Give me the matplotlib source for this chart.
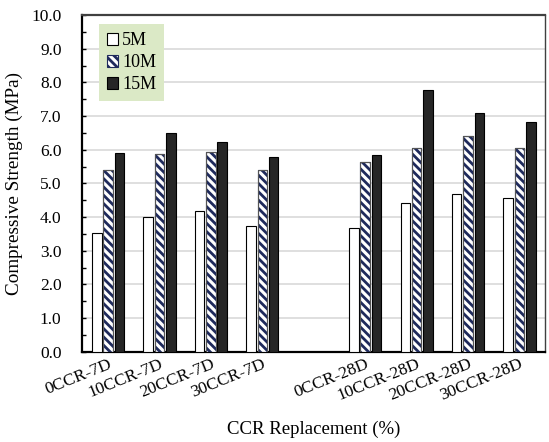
import matplotlib.pyplot as plt
import numpy as np

plt.rcParams['font.family'] = ['Liberation Serif', 'DejaVu Serif']
plt.rcParams['hatch.linewidth'] = 2.0

categories = ['0CCR-7D', '10CCR-7D', '20CCR-7D', '30CCR-7D', '',
              '0CCR-28D', '10CCR-28D', '20CCR-28D', '30CCR-28D']
s5 = [3.52, 4.00, 4.19, 3.74, np.nan, 3.69, 4.41, 4.69, 4.58]
s10 = [5.40, 5.88, 5.93, 5.40, np.nan, 5.63, 6.05, 6.41, 6.06]
s15 = [5.90, 6.50, 6.23, 5.79, np.nan, 5.85, 7.77, 7.08, 6.82]

fig = plt.figure(figsize=(5.49, 4.42), dpi=100)
ax = fig.add_axes([0.15, 0.204, 0.843, 0.762])

x = np.arange(len(categories))
w = 0.185
step = 0.22
ax.bar(x - step, s5, w, color='white', edgecolor='black', linewidth=0.8, label='5M', zorder=3)
ax.bar(x, s10, w, color='white', edgecolor='#1f2a5c', hatch='\\\\\\\\', linewidth=0.8, label='10M', zorder=3)
ax.bar(x, s10, w, color='none', edgecolor='#555555', linewidth=0.8, zorder=4)
ax.bar(x + step, s15, w, color='#262626', edgecolor='black', linewidth=0.8, label='15M', zorder=3)

ax.set_xlim(-0.5, len(categories) - 0.5)
ax.set_ylim(0, 10)
ax.set_yticks(np.arange(0, 10.01, 1.0))
ax.set_yticklabels([f'{v:.1f}' for v in np.arange(0, 10.01, 1.0)], fontsize=12.5)
ax.set_yticks(np.arange(0, 10.01, 0.5), minor=True)
ax.tick_params(axis='y', which='both', direction='in', length=3, width=1, pad=15)
ax.set_xticks(x)
ax.set_xticklabels(categories, rotation=22, ha='right', rotation_mode='anchor', fontsize=12.5)
ax.tick_params(axis='x', length=0, pad=3)
ax.grid(axis='y', color='#d9d9d9', linewidth=1.2, zorder=0)

ax.spines['left'].set_linewidth(1.6)
ax.spines['bottom'].set_linewidth(1.6)
ax.spines['top'].set_color('#404040')
ax.spines['top'].set_linewidth(1.6)
ax.spines['right'].set_color('#404040')
ax.spines['right'].set_linewidth(1.0)

ax.set_ylabel('Compressive Strength (MPa)', fontsize=13.8, labelpad=6)
ax.set_xlabel('CCR Replacement (%)', fontsize=13.5, labelpad=12)

leg = ax.legend(loc='upper left', bbox_to_anchor=(0.035, 0.973), fontsize=13,
                frameon=True, fancybox=False, handlelength=0.6, handleheight=0.6,
                handletextpad=0.25, labelspacing=0.28, borderpad=0.45, borderaxespad=0)
leg.get_frame().set_facecolor('#dbe9c6')
leg.get_frame().set_edgecolor('none')
leg.get_frame().set_alpha(1)

fig.savefig('out.png', dpi=100)
